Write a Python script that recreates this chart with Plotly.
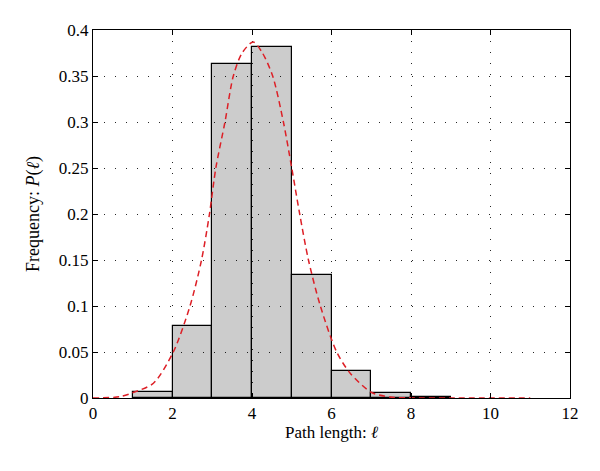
import plotly.graph_objects as go

# Histogram bins (left edges) and frequencies
bin_left = [1, 2, 3, 4, 5, 6, 7, 8]
freq = [0.0062, 0.078, 0.363, 0.381, 0.134, 0.029, 0.0058, 0.0009]

# Fitted dashed curve
curve_x = [0, 0.68, 1.01, 1.52, 2.02, 2.44, 2.73, 2.93, 3.09, 3.32, 3.53, 3.75, 4.03,
           4.25, 4.52, 4.79, 5.0, 5.2, 5.42, 5.72, 6.13, 6.47, 7.01, 7.47, 8.0, 9.0, 11.0]
curve_y = [0.0, 0.0014, 0.006, 0.016, 0.05, 0.10, 0.15, 0.20, 0.25, 0.30, 0.35, 0.375, 0.387,
           0.376, 0.35, 0.30, 0.25, 0.20, 0.15, 0.10, 0.05, 0.027, 0.006, 0.001, 0.0002, 0.0, 0.0]

x_ticks = [0, 2, 4, 6, 8, 10, 12]

fig = go.Figure()
fig.add_trace(go.Bar(
    x=[b + 0.5 for b in bin_left], y=freq, width=1,
    marker=dict(color="rgba(0,0,0,0.2)", line=dict(color="black", width=1.2)),
    showlegend=False,
))
fig.add_trace(go.Scatter(
    x=curve_x, y=curve_y, mode="lines",
    line=dict(color="#dd1f26", width=1.5, dash="6px,4px", shape="spline", smoothing=0.8),
    showlegend=False,
))

font_family = "Liberation Serif, Times New Roman, serif"
axis_common = dict(
    showline=True, linecolor="black", linewidth=1, mirror="ticks",
    ticks="inside", ticklen=5, tickcolor="black",
    showgrid=True, gridcolor="rgba(0,0,0,0.85)", gridwidth=1, griddash="1px,10px",
    zeroline=False, tickfont=dict(family=font_family, size=17, color="black"),
)

# page body has an 8px default margin, so the figure is 592x463
fig.update_layout(
    width=592, height=463,
    margin=dict(l=85, r=30, t=22, b=73),
    paper_bgcolor="white", plot_bgcolor="white",
    bargap=0,
    font=dict(family=font_family, color="black"),
    xaxis=dict(range=[0, 12], tickvals=x_ticks, title=dict(text="Path length: <i>ℓ</i>",
               font=dict(family=font_family, size=17), standoff=2), **axis_common),
    yaxis=dict(range=[0, 0.4], dtick=0.05, title=dict(text="Frequency: <i>P</i>(<i>ℓ</i>)",
               font=dict(family=font_family, size=18), standoff=14), **axis_common),
)

fig.write_html("out.html")
